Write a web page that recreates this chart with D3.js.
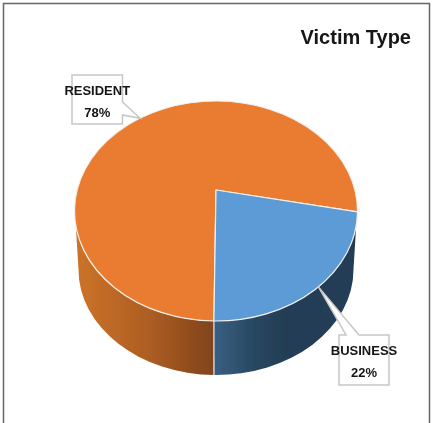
<!DOCTYPE html>
<html>
<head>
<meta charset="utf-8">
<script src="https://cdn.jsdelivr.net/npm/d3@7"></script>
<style>
  html, body { margin: 0; padding: 0; background: #fff; }
  svg { display: block; }
  text { font-family: "Liberation Sans Narrow", "Liberation Sans", sans-serif; font-weight: bold; fill: #151515; }
</style>
</head>
<body>
<svg id="chart"></svg>
<script>
const title = "Victim Type";
const categories = ["RESIDENT", "BUSINESS"];
const shares = [78, 22];
const sliceColors = ["#ea7b30", "#5b9bd5"];

const width = 433, height = 423;

// tilted pie: top face and the (slightly smaller) bottom face are ellipses,
// the pie centre sits above the middle of the ellipse because of the perspective
const topFace = { cx: 216, cy: 211, rx: 141.5, ry: 110 };
const bottomFace = { cx: 216, cy: 269.5, rx: 137.5, ry: 105.5 };
const centreShift = 21 / 110;
const startDeg = 180.7;

const svg = d3.select("#chart").attr("width", width).attr("height", height);
const defs = svg.append("defs");

defs.append("filter").attr("id", "soft")
  .append("feGaussianBlur").attr("stdDeviation", 0.35);

const addGradient = (id, x1, x2, stops) => {
  const g = defs.append("linearGradient").attr("id", id)
    .attr("gradientUnits", "userSpaceOnUse")
    .attr("x1", x1).attr("x2", x2).attr("y1", 0).attr("y2", 0);
  stops.forEach(s => g.append("stop").attr("offset", s[0]).attr("stop-color", s[1]));
};

const root = svg.append("g").attr("filter", "url(#soft)");

// frame, open at the bottom
root.append("path")
  .attr("d", "M3.5," + height + "V3.5H429.5V" + height)
  .attr("fill", "none").attr("stroke", "#666").attr("stroke-width", 1.5);

root.append("text")
  .attr("x", 411).attr("y", 44)
  .attr("text-anchor", "end")
  .attr("font-size", 20)
  .text(title);

const pie = d3.pie().sort(null)
  .startAngle(startDeg * Math.PI / 180)
  .endAngle((startDeg + 360) * Math.PI / 180);
const slices = pie(shares);

// angle on the flat pie (clockwise from 12 o'clock) to a point on a face rim
const rim = (face, angle) => {
  const u = Math.sin(angle), v = -Math.cos(angle);
  const k = centreShift;
  const w = 1 - k * v;
  return [
    face.cx + face.rx * Math.sqrt(1 - k * k) * u / w,
    face.cy + face.ry * (v - k) / w
  ];
};
const apex = [topFace.cx, rim(topFace, 0)[1] + 0];
apex[1] = topFace.cy - topFace.ry * centreShift;

const arcTo = (face, p, large, sweep) =>
  `A${face.rx},${face.ry} 0 ${large} ${sweep} ${p[0]},${p[1]}`;

// side wall
const residentSlice = slices[0], businessSlice = slices[1];
const divTop = rim(topFace, residentSlice.startAngle);
const divBottom = rim(bottomFace, residentSlice.startAngle);
const sideY = 226;
const sideX = (face, y, sign) =>
  face.cx + sign * face.rx * Math.sqrt(1 - Math.pow((y - face.cy) / face.ry, 2));
const topLeft = [sideX(topFace, sideY, -1), sideY];
const topRight = [sideX(topFace, sideY, 1), sideY];
const bottomLeft = [bottomFace.cx - bottomFace.rx, bottomFace.cy];
const bottomRight = [bottomFace.cx + bottomFace.rx, bottomFace.cy];

addGradient("wallResident", topLeft[0], divTop[0],
  [[0, "#cc7329"], [0.5, "#b05f23"], [1, "#80431a"]]);
addGradient("wallBusiness", divTop[0], 285,
  [[0, "#3a5f82"], [0.6, "#274660"], [1, "#233e54"]]);

root.append("path")
  .attr("d", `M${topLeft} L${bottomLeft} ${arcTo(bottomFace, divBottom, 0, 0)} L${divTop} ${arcTo(topFace, topLeft, 0, 1)} Z`)
  .attr("fill", "url(#wallResident)");
root.append("path")
  .attr("d", `M${divTop} L${divBottom} ${arcTo(bottomFace, bottomRight, 0, 0)} L${topRight} ${arcTo(topFace, divTop, 0, 1)} Z`)
  .attr("fill", "url(#wallBusiness)");
root.append("line")
  .attr("x1", divTop[0]).attr("y1", divTop[1])
  .attr("x2", divBottom[0]).attr("y2", divBottom[1])
  .attr("stroke", "#e8e8e8").attr("stroke-width", 1.2);

// top face
root.selectAll("path.slice")
  .data(slices)
  .join("path")
  .attr("class", "slice")
  .attr("fill", (d, i) => sliceColors[i])
  .attr("stroke", "#f4f0ec")
  .attr("stroke-width", 1.2)
  .attr("stroke-linejoin", "round")
  .attr("d", d => {
    const a = rim(topFace, d.startAngle), b = rim(topFace, d.endAngle);
    const large = d.endAngle - d.startAngle > Math.PI ? 1 : 0;
    return `M${apex} L${a} ${arcTo(topFace, b, large, 1)} Z`;
  });

// callouts, pointer tip comes from the middle of each slice
const boxes = [
  { x: 72, y: 75, w: 50.5, h: 49, base: t => [[122.5, 102], [122.5, 115]] },
  { x: 339, y: 335, w: 50, h: 50, base: t => [[346, 335], [359, 335]] }
];

const callouts = root.selectAll("g.callout")
  .data(slices)
  .join("g")
  .attr("class", "callout");

callouts.append("path")
  .attr("fill", "#fff")
  .attr("stroke", "#c6c6c6")
  .attr("stroke-width", 1.5)
  .attr("stroke-linejoin", "miter")
  .attr("d", (d, i) => {
    const b = boxes[i];
    const tip = rim(topFace, (d.startAngle + d.endAngle) / 2);
    const base = b.base();
    if (i === 0) {
      return `M${b.x},${b.y}H${b.x + b.w}V${base[0][1]}L${tip}L${base[1]}V${b.y + b.h}H${b.x}Z`;
    }
    return `M${b.x},${b.y}H${base[0][0]}L${tip}L${base[1]}H${b.x + b.w}V${b.y + b.h}H${b.x}Z`;
  });

callouts.append("text")
  .attr("x", (d, i) => boxes[i].x + boxes[i].w / 2)
  .attr("y", (d, i) => boxes[i].y + 20)
  .attr("text-anchor", "middle")
  .attr("font-size", 13)
  .text((d, i) => categories[i]);

callouts.append("text")
  .attr("x", (d, i) => boxes[i].x + boxes[i].w / 2)
  .attr("y", (d, i) => boxes[i].y + 42)
  .attr("text-anchor", "middle")
  .attr("font-size", 13)
  .text((d, i) => shares[i] + "%");
</script>
</body>
</html>
